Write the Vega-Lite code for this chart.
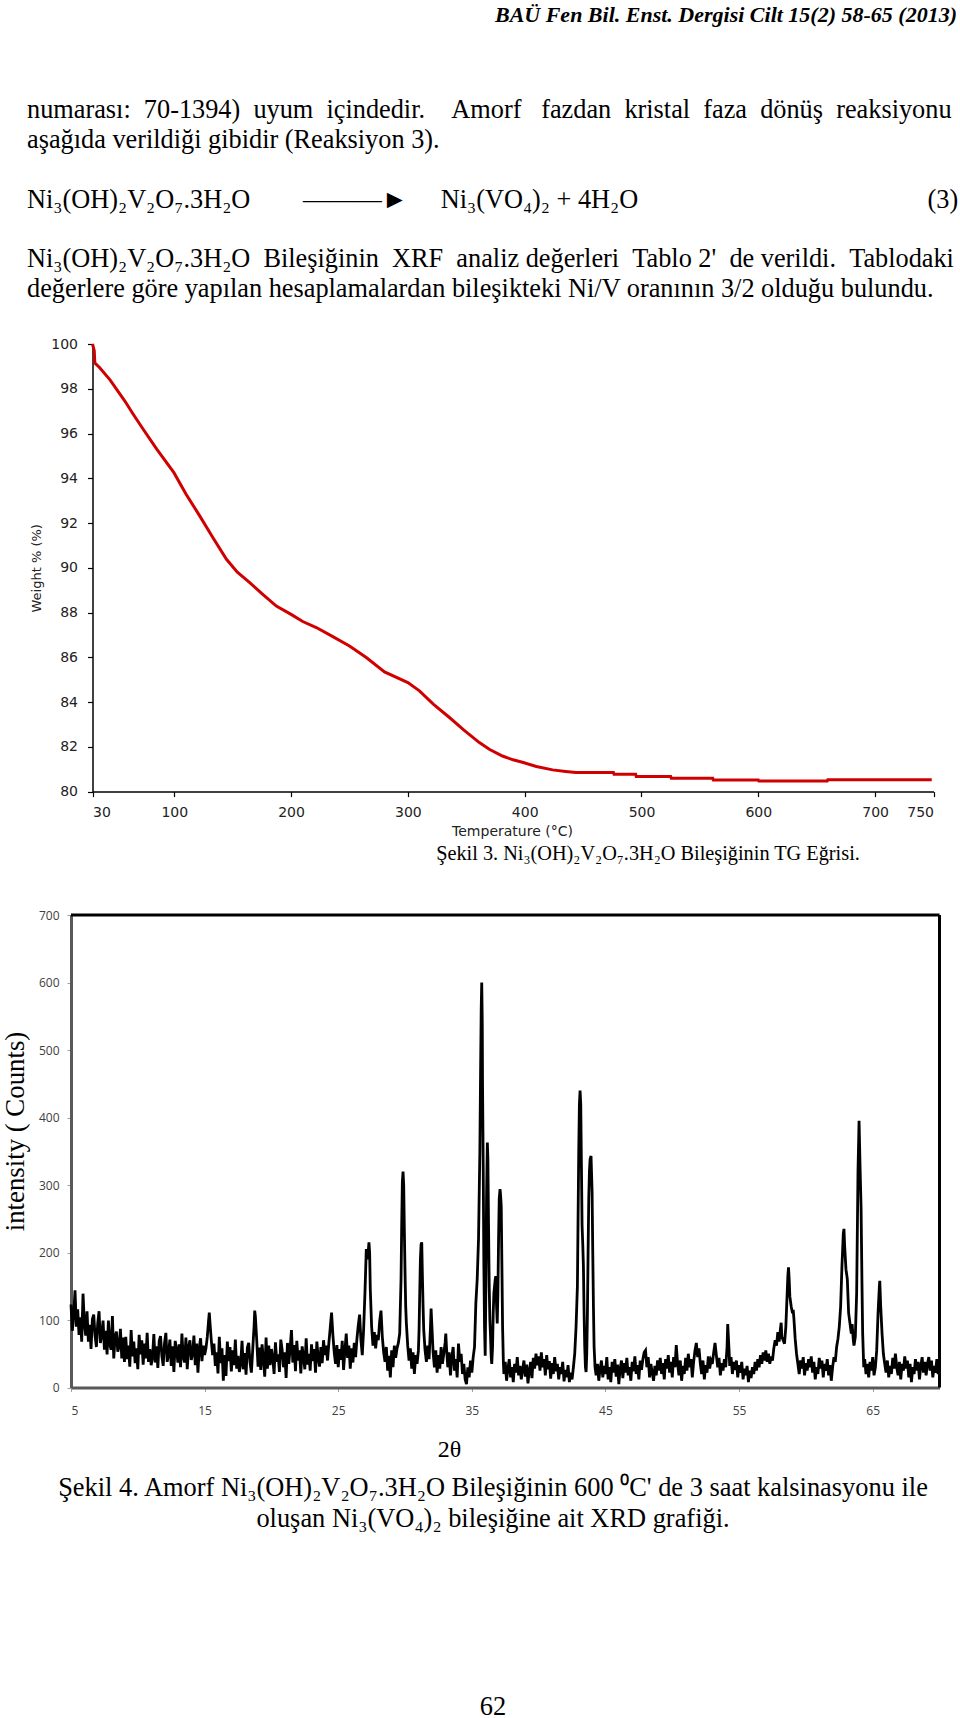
{
  "$schema": "https://vega.github.io/schema/vega-lite/v6.json",
  "background": "white",
  "padding": {"left": 0, "top": 4, "right": 0, "bottom": 0},
  "config": {
    "view": {"stroke": null},
    "concat": {"spacing": 5},
    "title": {"font": "Liberation Serif", "color": "black", "fontWeight": "normal"}
  },
  "title": {"text": "BAÜ Fen Bil. Enst. Dergisi Cilt 15(2) 58-65 (2013)", "anchor": "end", "fontSize": 22, "fontStyle": "italic", "fontWeight": "bold", "font": "Liberation Serif", "offset": 70, "dx": -3},
  "vconcat": [
    {
      "width": 960,
      "height": 447.6,
      "title": {
        "text": [
          "numarası:\u00a0\u00a070-1394)\u00a0\u00a0uyum\u00a0\u00a0içindedir.\u00a0\u00a0\u00a0\u00a0Amorf\u00a0\u00a0\u00a0fazdan\u00a0\u00a0kristal\u00a0\u00a0faza\u00a0\u00a0dönüş\u00a0\u00a0reaksiyonu",
          "aşağıda verildiği gibidir (Reaksiyon 3).",
          "\u2800",
          "Ni₃(OH)₂V₂O₇.3H₂O\u00a0\u00a0\u00a0\u00a0\u00a0\u00a0\u00a0\u00a0———►\u00a0\u00a0\u00a0\u00a0\u00a0Ni₃(VO₄)₂ + 4H₂O\u00a0\u00a0\u00a0\u00a0\u00a0\u00a0\u00a0\u00a0\u00a0\u00a0\u00a0\u00a0\u00a0\u00a0\u00a0\u00a0\u00a0\u00a0\u00a0\u00a0\u00a0\u00a0\u00a0\u00a0\u00a0\u00a0\u00a0\u00a0\u00a0\u00a0\u00a0\u00a0\u00a0\u00a0\u00a0\u00a0\u00a0\u00a0\u00a0\u00a0\u00a0\u00a0\u00a0\u00a0(3)",
          "\u2800",
          "Ni₃(OH)₂V₂O₇.3H₂O\u00a0\u00a0Bileşiğinin\u00a0\u00a0XRF\u00a0\u00a0analiz\u00a0değerleri\u00a0\u00a0Tablo\u00a02'\u00a0\u00a0de\u00a0verildi.\u00a0\u00a0Tablodaki",
          "değerlere göre yapılan hesaplamalardan bileşikteki Ni/V oranının 3/2 olduğu bulundu."
        ],
        "anchor": "start",
        "frame": "group",
        "dx": 27,
        "fontSize": 26.3,
        "lineHeight": 29.8,
        "offset": 34.5
      },
      "data": {"values": [
        {"temp": 30, "weight": 100.0},
        {"temp": 31.5, "weight": 99.7},
        {"temp": 32, "weight": 99.15},
        {"temp": 33, "weight": 99.1},
        {"temp": 36, "weight": 98.95},
        {"temp": 45, "weight": 98.4},
        {"temp": 57.7, "weight": 97.45},
        {"temp": 65, "weight": 96.85},
        {"temp": 73.4, "weight": 96.19},
        {"temp": 85, "weight": 95.3},
        {"temp": 99.7, "weight": 94.25},
        {"temp": 110, "weight": 93.3},
        {"temp": 121.9, "weight": 92.31},
        {"temp": 133, "weight": 91.35},
        {"temp": 144.7, "weight": 90.38},
        {"temp": 154, "weight": 89.8},
        {"temp": 164.6, "weight": 89.34},
        {"temp": 176, "weight": 88.8},
        {"temp": 187.4, "weight": 88.29},
        {"temp": 200, "weight": 87.92},
        {"temp": 210, "weight": 87.6},
        {"temp": 221.6, "weight": 87.33},
        {"temp": 235, "weight": 86.95},
        {"temp": 250, "weight": 86.51},
        {"temp": 264.4, "weight": 85.99},
        {"temp": 280, "weight": 85.35},
        {"temp": 300, "weight": 84.87},
        {"temp": 309.9, "weight": 84.5},
        {"temp": 322, "weight": 83.9},
        {"temp": 335.6, "weight": 83.31},
        {"temp": 348, "weight": 82.75},
        {"temp": 361.2, "weight": 82.19},
        {"temp": 369.7, "weight": 81.89},
        {"temp": 381, "weight": 81.59},
        {"temp": 390, "weight": 81.42},
        {"temp": 398.8, "weight": 81.3},
        {"temp": 410, "weight": 81.12},
        {"temp": 423.9, "weight": 80.97},
        {"temp": 435, "weight": 80.9},
        {"temp": 443.8, "weight": 80.85},
        {"temp": 476, "weight": 80.85},
        {"temp": 476.5, "weight": 80.77},
        {"temp": 495, "weight": 80.77},
        {"temp": 495.5, "weight": 80.67},
        {"temp": 525, "weight": 80.67},
        {"temp": 525.5, "weight": 80.6},
        {"temp": 561, "weight": 80.6},
        {"temp": 561.5, "weight": 80.52},
        {"temp": 600, "weight": 80.52},
        {"temp": 600.5, "weight": 80.47},
        {"temp": 659, "weight": 80.47},
        {"temp": 659.5, "weight": 80.53},
        {"temp": 748.5, "weight": 80.53}
      ]},
      "mark": {"type": "line", "color": "#d00000", "strokeWidth": 3},
      "encoding": {
        "x": {
          "field": "temp", "type": "quantitative",
          "scale": {"domain": [30, 750], "range": [92.5, 933.5], "nice": false, "zero": false},
          "axis": {
            "values": [30, 100, 200, 300, 400, 500, 600, 700, 750],
            "title": "Temperature (°C)", "titleFont": "DejaVu Sans", "titleFontSize": 14, "titleFontWeight": "normal", "titleColor": "#222", "titlePadding": 5, "titleX": 512,
            "labelFont": "DejaVu Sans", "labelFontSize": 14, "labelColor": "#222", "labelPadding": 9.2,
            "domainColor": "black", "domainWidth": 1.5, "tickColor": "black", "tickSize": 5, "tickWidth": 1.2, "grid": false
          }
        },
        "y": {
          "field": "weight", "type": "quantitative",
          "scale": {"domain": [80, 100], "nice": false, "zero": false},
          "axis": {
            "values": [80, 82, 84, 86, 88, 90, 92, 94, 96, 98, 100],
            "offset": -92.5,
            "title": "Weight % (%)", "titleFont": "DejaVu Sans", "titleFontSize": 13, "titleFontWeight": "normal", "titleColor": "#222", "titlePadding": 7,
            "labelFont": "DejaVu Sans", "labelFontSize": 14, "labelColor": "#222", "labelPadding": 10,
            "domainColor": "black", "domainWidth": 1.5, "tickColor": "black", "tickSize": 5, "tickWidth": 1.2, "grid": false
          }
        }
      }
    },
    {
      "title": {
        "text": [
          "Şekil 4.  Amorf Ni₃(OH)₂V₂O₇.3H₂O Bileşiğinin 600 ⁰C' de 3 saat kalsinasyonu ile",
          "oluşan Ni₃(VO₄)₂ bileşiğine ait XRD grafiği.",
          "\u2800", "\u2800", "\u2800", "\u2800", "\u2800",
          "62"
        ],
        "orient": "bottom",
        "anchor": "middle",
        "dx": 13,
        "fontSize": 26.4,
        "lineHeight": 31.4,
        "offset": 13
      },
      "vconcat": [
        {
          "width": 960,
          "height": 472.5,
          "title": {"text": "Şekil 3.  Ni₃(OH)₂V₂O₇.3H₂O Bileşiğinin TG Eğrisi.", "anchor": "middle", "frame": "group", "dx": 168, "fontSize": 20.3, "offset": 44.3},
          "layer": [
            {
              "data": {"values": [
{"theta":5,"counts":123},{"theta":5.1,"counts":84},{"theta":5.2,"counts":108},{"theta":5.3,"counts":144},{"theta":5.4,"counts":90},{"theta":5.5,"counts":116},{"theta":5.6,"counts":78},{"theta":5.7,"counts":104},{"theta":5.8,"counts":68},{"theta":5.9,"counts":139},{"theta":6,"counts":95},
{"theta":6.1,"counts":77},{"theta":6.2,"counts":113},{"theta":6.3,"counts":68},{"theta":6.4,"counts":93},{"theta":6.5,"counts":57},{"theta":6.6,"counts":101},{"theta":6.7,"counts":108},{"theta":6.8,"counts":77},{"theta":6.9,"counts":60},{"theta":7,"counts":95},
{"theta":7.1,"counts":113},{"theta":7.2,"counts":66},{"theta":7.3,"counts":78},{"theta":7.4,"counts":99},{"theta":7.5,"counts":56},{"theta":7.6,"counts":84},{"theta":7.7,"counts":49},{"theta":7.8,"counts":99},{"theta":7.9,"counts":64},{"theta":8,"counts":56},
{"theta":8.1,"counts":106},{"theta":8.2,"counts":43},{"theta":8.3,"counts":75},{"theta":8.4,"counts":83},{"theta":8.5,"counts":53},{"theta":8.6,"counts":61},{"theta":8.7,"counts":87},{"theta":8.8,"counts":43},{"theta":8.9,"counts":74},{"theta":9,"counts":38},
{"theta":9.1,"counts":75},{"theta":9.2,"counts":42},{"theta":9.3,"counts":62},{"theta":9.4,"counts":31},{"theta":9.5,"counts":85},{"theta":9.6,"counts":46},{"theta":9.7,"counts":68},{"theta":9.8,"counts":36},{"theta":9.9,"counts":58},{"theta":10,"counts":27},
{"theta":10.1,"counts":78},{"theta":10.2,"counts":49},{"theta":10.3,"counts":70},{"theta":10.4,"counts":34},{"theta":10.5,"counts":65},{"theta":10.6,"counts":43},{"theta":10.7,"counts":81},{"theta":10.8,"counts":38},{"theta":10.9,"counts":57},{"theta":11,"counts":33},
{"theta":11.1,"counts":45},{"theta":11.2,"counts":79},{"theta":11.3,"counts":37},{"theta":11.4,"counts":61},{"theta":11.5,"counts":29},{"theta":11.6,"counts":69},{"theta":11.7,"counts":76},{"theta":11.8,"counts":47},{"theta":11.9,"counts":32},{"theta":12,"counts":66},
{"theta":12.1,"counts":81},{"theta":12.2,"counts":38},{"theta":12.3,"counts":49},{"theta":12.4,"counts":71},{"theta":12.5,"counts":32},{"theta":12.6,"counts":61},{"theta":12.7,"counts":23},{"theta":12.8,"counts":69},{"theta":12.9,"counts":56},{"theta":13,"counts":37},
{"theta":13.1,"counts":64},{"theta":13.2,"counts":30},{"theta":13.3,"counts":80},{"theta":13.4,"counts":45},{"theta":13.5,"counts":37},{"theta":13.6,"counts":74},{"theta":13.7,"counts":27},{"theta":13.8,"counts":60},{"theta":13.9,"counts":70},{"theta":14,"counts":41},
{"theta":14.1,"counts":50},{"theta":14.2,"counts":77},{"theta":14.3,"counts":33},{"theta":14.4,"counts":65},{"theta":14.5,"counts":22},{"theta":14.6,"counts":59},{"theta":14.7,"counts":73},{"theta":14.8,"counts":39},{"theta":14.9,"counts":62},{"theta":15,"counts":48},
{"theta":15.1,"counts":58},{"theta":15.2,"counts":75},{"theta":15.3,"counts":100},{"theta":15.35,"counts":111},{"theta":15.4,"counts":96},{"theta":15.5,"counts":70},{"theta":15.6,"counts":48},
{"theta":15.7,"counts":65},{"theta":15.8,"counts":32},{"theta":15.9,"counts":52},{"theta":16,"counts":21},{"theta":16.1,"counts":75},{"theta":16.2,"counts":36},{"theta":16.3,"counts":58},{"theta":16.4,"counts":10},{"theta":16.5,"counts":48},{"theta":16.6,"counts":17},
{"theta":16.7,"counts":68},{"theta":16.8,"counts":39},{"theta":16.9,"counts":60},{"theta":17,"counts":24},{"theta":17.1,"counts":55},{"theta":17.2,"counts":33},{"theta":17.3,"counts":71},{"theta":17.4,"counts":28},{"theta":17.5,"counts":47},{"theta":17.6,"counts":23},
{"theta":17.7,"counts":35},{"theta":17.8,"counts":69},{"theta":17.9,"counts":27},{"theta":18,"counts":51},{"theta":18.1,"counts":19},{"theta":18.2,"counts":59},{"theta":18.3,"counts":66},{"theta":18.4,"counts":37},{"theta":18.5,"counts":22},{"theta":18.6,"counts":56},
{"theta":18.7,"counts":90},{"theta":18.75,"counts":114},{"theta":18.8,"counts":105},{"theta":18.9,"counts":70},
{"theta":19,"counts":31},{"theta":19.1,"counts":59},{"theta":19.2,"counts":26},{"theta":19.3,"counts":64},{"theta":19.4,"counts":42},{"theta":19.5,"counts":16},{"theta":19.6,"counts":74},{"theta":19.7,"counts":28},{"theta":19.8,"counts":62},{"theta":19.9,"counts":33},
{"theta":20,"counts":57},{"theta":20.1,"counts":43},{"theta":20.2,"counts":20},{"theta":20.3,"counts":67},{"theta":20.4,"counts":38},{"theta":20.5,"counts":49},{"theta":20.6,"counts":23},{"theta":20.7,"counts":71},{"theta":20.8,"counts":56},{"theta":20.9,"counts":30},
{"theta":21,"counts":52},{"theta":21.1,"counts":14},{"theta":21.2,"counts":66},{"theta":21.3,"counts":35},{"theta":21.4,"counts":58},{"theta":21.5,"counts":85},{"theta":21.6,"counts":37},{"theta":21.7,"counts":63},{"theta":21.8,"counts":24},{"theta":21.9,"counts":69},
{"theta":22,"counts":40},{"theta":22.1,"counts":55},{"theta":22.2,"counts":21},{"theta":22.3,"counts":61},{"theta":22.4,"counts":45},{"theta":22.5,"counts":27},{"theta":22.6,"counts":73},{"theta":22.7,"counts":34},{"theta":22.8,"counts":50},{"theta":22.9,"counts":25},
{"theta":23,"counts":64},{"theta":23.1,"counts":39},{"theta":23.2,"counts":57},{"theta":23.3,"counts":22},{"theta":23.4,"counts":68},{"theta":23.5,"counts":44},{"theta":23.6,"counts":31},{"theta":23.7,"counts":60},{"theta":23.8,"counts":36},{"theta":23.9,"counts":70},
{"theta":24,"counts":48},{"theta":24.1,"counts":62},{"theta":24.2,"counts":40},{"theta":24.3,"counts":66},{"theta":24.4,"counts":88},{"theta":24.5,"counts":111},{"theta":24.6,"counts":78},{"theta":24.7,"counts":52},
{"theta":24.8,"counts":35},{"theta":24.9,"counts":63},{"theta":25,"counts":30},{"theta":25.1,"counts":57},{"theta":25.2,"counts":41},{"theta":25.3,"counts":69},{"theta":25.4,"counts":26},{"theta":25.5,"counts":55},{"theta":25.6,"counts":80},{"theta":25.7,"counts":44},
{"theta":25.8,"counts":62},{"theta":25.9,"counts":28},{"theta":26,"counts":58},{"theta":26.1,"counts":37},{"theta":26.2,"counts":66},{"theta":26.3,"counts":45},{"theta":26.4,"counts":72},
{"theta":26.5,"counts":92},{"theta":26.6,"counts":108},{"theta":26.7,"counts":70},{"theta":26.8,"counts":48},{"theta":26.9,"counts":86},{"theta":27,"counts":140},{"theta":27.1,"counts":205},{"theta":27.2,"counts":190},{"theta":27.3,"counts":215},{"theta":27.35,"counts":200},
{"theta":27.4,"counts":145},{"theta":27.5,"counts":90},{"theta":27.6,"counts":62},{"theta":27.7,"counts":82},{"theta":27.8,"counts":58},{"theta":27.9,"counts":78},{"theta":28,"counts":70},{"theta":28.1,"counts":98},{"theta":28.2,"counts":114},{"theta":28.3,"counts":75},{"theta":28.4,"counts":52},
{"theta":28.5,"counts":38},{"theta":28.6,"counts":60},{"theta":28.7,"counts":25},{"theta":28.8,"counts":47},{"theta":28.9,"counts":15},{"theta":29,"counts":55},{"theta":29.1,"counts":30},{"theta":29.2,"counts":62},{"theta":29.3,"counts":44},{"theta":29.4,"counts":58},{"theta":29.5,"counts":66},
{"theta":29.6,"counts":80},{"theta":29.7,"counts":160},{"theta":29.75,"counts":240},{"theta":29.8,"counts":305},{"theta":29.85,"counts":320},{"theta":29.9,"counts":300},{"theta":29.95,"counts":230},{"theta":30,"counts":170},{"theta":30.05,"counts":120},{"theta":30.1,"counts":95},{"theta":30.2,"counts":62},
{"theta":30.3,"counts":40},{"theta":30.4,"counts":58},{"theta":30.5,"counts":28},{"theta":30.6,"counts":52},{"theta":30.7,"counts":20},{"theta":30.8,"counts":48},{"theta":30.9,"counts":35},{"theta":31,"counts":55},
{"theta":31.05,"counts":85},{"theta":31.1,"counts":140},{"theta":31.15,"counts":190},{"theta":31.2,"counts":212},{"theta":31.25,"counts":215},{"theta":31.3,"counts":165},{"theta":31.35,"counts":120},{"theta":31.4,"counts":85},{"theta":31.5,"counts":55},{"theta":31.6,"counts":38},
{"theta":31.7,"counts":62},{"theta":31.8,"counts":42},{"theta":31.9,"counts":88},{"theta":31.95,"counts":117},{"theta":32,"counts":95},{"theta":32.1,"counts":52},
{"theta":32.2,"counts":30},{"theta":32.3,"counts":55},{"theta":32.4,"counts":22},{"theta":32.5,"counts":48},{"theta":32.6,"counts":28},{"theta":32.7,"counts":60},{"theta":32.8,"counts":35},{"theta":32.9,"counts":50},{"theta":33,"counts":66},{"theta":33.05,"counts":80},
{"theta":33.1,"counts":60},{"theta":33.2,"counts":30},{"theta":33.3,"counts":52},{"theta":33.4,"counts":18},{"theta":33.5,"counts":45},{"theta":33.6,"counts":60},{"theta":33.7,"counts":25},{"theta":33.8,"counts":42},{"theta":33.9,"counts":15},{"theta":34,"counts":65},
{"theta":34.1,"counts":38},{"theta":34.2,"counts":50},{"theta":34.3,"counts":20},{"theta":34.4,"counts":35},{"theta":34.5,"counts":12},{"theta":34.6,"counts":5},{"theta":34.7,"counts":30},{"theta":34.8,"counts":15},{"theta":34.9,"counts":40},{"theta":35,"counts":22},
{"theta":35.1,"counts":45},{"theta":35.2,"counts":60},{"theta":35.3,"counts":125},{"theta":35.4,"counts":160},{"theta":35.5,"counts":220},{"theta":35.6,"counts":350},{"theta":35.65,"counts":460},{"theta":35.7,"counts":560},{"theta":35.74,"counts":600},{"theta":35.78,"counts":540},
{"theta":35.8,"counts":450},{"theta":35.85,"counts":330},{"theta":35.9,"counts":180},{"theta":35.95,"counts":90},{"theta":36,"counts":47},{"theta":36.05,"counts":150},{"theta":36.1,"counts":280},{"theta":36.16,"counts":363},{"theta":36.2,"counts":340},{"theta":36.25,"counts":240},
{"theta":36.3,"counts":150},{"theta":36.35,"counts":100},{"theta":36.4,"counts":75},{"theta":36.45,"counts":45},{"theta":36.49,"counts":35},{"theta":36.55,"counts":60},{"theta":36.6,"counts":110},{"theta":36.65,"counts":140},{"theta":36.7,"counts":150},{"theta":36.75,"counts":160},
{"theta":36.79,"counts":165},{"theta":36.85,"counts":120},{"theta":36.9,"counts":95},{"theta":36.95,"counts":140},{"theta":37,"counts":220},{"theta":37.05,"counts":280},{"theta":37.11,"counts":294},{"theta":37.15,"counts":285},{"theta":37.2,"counts":268},{"theta":37.25,"counts":180},
{"theta":37.3,"counts":90},{"theta":37.36,"counts":37},
{"theta":37.4,"counts":20},{"theta":37.5,"counts":38},{"theta":37.6,"counts":10},{"theta":37.7,"counts":28},{"theta":37.8,"counts":42},{"theta":37.9,"counts":15},{"theta":38,"counts":30},{"theta":38.1,"counts":8},{"theta":38.2,"counts":35},{"theta":38.3,"counts":22},
{"theta":38.4,"counts":45},{"theta":38.5,"counts":18},{"theta":38.6,"counts":32},{"theta":38.7,"counts":12},{"theta":38.8,"counts":27},{"theta":38.9,"counts":40},{"theta":39,"counts":16},{"theta":39.1,"counts":34},{"theta":39.2,"counts":6},{"theta":39.3,"counts":25},
{"theta":39.4,"counts":38},{"theta":39.5,"counts":14},{"theta":39.6,"counts":44},{"theta":39.7,"counts":28},{"theta":39.8,"counts":50},{"theta":39.9,"counts":33},{"theta":40,"counts":46},{"theta":40.1,"counts":25},{"theta":40.2,"counts":52},{"theta":40.3,"counts":30},
{"theta":40.4,"counts":42},{"theta":40.5,"counts":18},{"theta":40.6,"counts":48},{"theta":40.7,"counts":27},{"theta":40.8,"counts":39},{"theta":40.9,"counts":13},{"theta":41,"counts":36},{"theta":41.1,"counts":20},{"theta":41.2,"counts":45},{"theta":41.3,"counts":24},
{"theta":41.4,"counts":35},{"theta":41.5,"counts":12},{"theta":41.6,"counts":30},{"theta":41.7,"counts":20},{"theta":41.8,"counts":38},{"theta":41.9,"counts":9},{"theta":42,"counts":26},{"theta":42.1,"counts":15},{"theta":42.2,"counts":33},{"theta":42.3,"counts":8},
{"theta":42.4,"counts":22},{"theta":42.5,"counts":12},{"theta":42.6,"counts":30},
{"theta":42.7,"counts":50},{"theta":42.8,"counts":90},{"theta":42.9,"counts":150},{"theta":42.95,"counts":250},{"theta":43,"counts":350},{"theta":43.05,"counts":420},{"theta":43.1,"counts":440},{"theta":43.15,"counts":420},{"theta":43.2,"counts":330},{"theta":43.25,"counts":240},
{"theta":43.3,"counts":213},{"theta":43.35,"counts":180},{"theta":43.4,"counts":110},{"theta":43.45,"counts":60},{"theta":43.5,"counts":30},{"theta":43.55,"counts":23},{"theta":43.6,"counts":50},{"theta":43.65,"counts":110},{"theta":43.7,"counts":200},{"theta":43.75,"counts":280},
{"theta":43.8,"counts":320},{"theta":43.85,"counts":338},{"theta":43.92,"counts":343},{"theta":44,"counts":290},{"theta":44.05,"counts":200},{"theta":44.1,"counts":120},{"theta":44.15,"counts":60},{"theta":44.22,"counts":30},
{"theta":44.3,"counts":18},{"theta":44.4,"counts":35},{"theta":44.5,"counts":10},{"theta":44.6,"counts":28},{"theta":44.7,"counts":40},{"theta":44.8,"counts":15},{"theta":44.9,"counts":32},{"theta":45,"counts":20},{"theta":45.1,"counts":45},{"theta":45.2,"counts":12},
{"theta":45.3,"counts":30},{"theta":45.4,"counts":8},{"theta":45.5,"counts":38},{"theta":45.6,"counts":22},{"theta":45.7,"counts":42},{"theta":45.8,"counts":16},{"theta":45.9,"counts":34},{"theta":46,"counts":5},{"theta":46.1,"counts":28},{"theta":46.2,"counts":40},
{"theta":46.3,"counts":14},{"theta":46.4,"counts":36},{"theta":46.5,"counts":22},{"theta":46.6,"counts":44},{"theta":46.7,"counts":18},{"theta":46.8,"counts":30},{"theta":46.9,"counts":10},{"theta":47,"counts":38},{"theta":47.1,"counts":24},{"theta":47.2,"counts":46},
{"theta":47.3,"counts":20},{"theta":47.4,"counts":33},{"theta":47.5,"counts":12},{"theta":47.6,"counts":40},{"theta":47.7,"counts":26},{"theta":47.8,"counts":42},{"theta":47.9,"counts":52},{"theta":48,"counts":55},{"theta":48.1,"counts":30},{"theta":48.2,"counts":45},
{"theta":48.3,"counts":15},{"theta":48.4,"counts":35},{"theta":48.5,"counts":22},{"theta":48.6,"counts":10},{"theta":48.7,"counts":32},{"theta":48.8,"counts":18},{"theta":48.9,"counts":40},{"theta":49,"counts":25},{"theta":49.1,"counts":44},{"theta":49.2,"counts":20},
{"theta":49.3,"counts":36},{"theta":49.4,"counts":12},{"theta":49.5,"counts":42},{"theta":49.6,"counts":28},{"theta":49.7,"counts":48},{"theta":49.8,"counts":22},{"theta":49.9,"counts":38},{"theta":50,"counts":15},{"theta":50.1,"counts":45},{"theta":50.2,"counts":30},
{"theta":50.3,"counts":63},{"theta":50.4,"counts":35},{"theta":50.5,"counts":18},{"theta":50.6,"counts":40},{"theta":50.7,"counts":10},{"theta":50.8,"counts":32},{"theta":50.9,"counts":20},{"theta":51,"counts":44},{"theta":51.1,"counts":25},{"theta":51.2,"counts":50},
{"theta":51.3,"counts":30},{"theta":51.4,"counts":42},{"theta":51.5,"counts":15},{"theta":51.6,"counts":38},{"theta":51.7,"counts":55},{"theta":51.8,"counts":66},{"theta":51.9,"counts":45},{"theta":52,"counts":58},{"theta":52.1,"counts":35},{"theta":52.2,"counts":20},
{"theta":52.3,"counts":40},{"theta":52.4,"counts":12},{"theta":52.5,"counts":33},{"theta":52.6,"counts":22},{"theta":52.7,"counts":46},{"theta":52.8,"counts":28},{"theta":52.9,"counts":40},{"theta":53,"counts":35},{"theta":53.1,"counts":52},{"theta":53.2,"counts":66},
{"theta":53.3,"counts":48},{"theta":53.4,"counts":30},{"theta":53.5,"counts":44},{"theta":53.6,"counts":18},{"theta":53.7,"counts":36},{"theta":53.8,"counts":25},{"theta":53.9,"counts":42},{"theta":54,"counts":30},{"theta":54.1,"counts":60},{"theta":54.15,"counts":94},
{"theta":54.25,"counts":55},{"theta":54.3,"counts":32},{"theta":54.4,"counts":45},{"theta":54.5,"counts":20},{"theta":54.6,"counts":38},{"theta":54.7,"counts":26},{"theta":54.8,"counts":40},{"theta":54.9,"counts":15},{"theta":55,"counts":33},{"theta":55.1,"counts":22},
{"theta":55.2,"counts":38},{"theta":55.3,"counts":12},{"theta":55.4,"counts":28},{"theta":55.5,"counts":18},{"theta":55.6,"counts":32},{"theta":55.7,"counts":8},{"theta":55.8,"counts":25},{"theta":55.9,"counts":14},{"theta":56,"counts":30},{"theta":56.1,"counts":20},
{"theta":56.2,"counts":38},{"theta":56.3,"counts":25},{"theta":56.4,"counts":42},{"theta":56.5,"counts":30},{"theta":56.6,"counts":48},{"theta":56.7,"counts":35},{"theta":56.8,"counts":52},{"theta":56.9,"counts":40},{"theta":57,"counts":55},{"theta":57.1,"counts":38},
{"theta":57.2,"counts":50},{"theta":57.3,"counts":35},{"theta":57.4,"counts":46},{"theta":57.5,"counts":40},{"theta":57.6,"counts":58},{"theta":57.7,"counts":70},{"theta":57.8,"counts":62},{"theta":57.9,"counts":82},{"theta":58,"counts":68},{"theta":58.1,"counts":88},
{"theta":58.15,"counts":96},{"theta":58.2,"counts":75},{"theta":58.3,"counts":70},{"theta":58.4,"counts":65},{"theta":58.5,"counts":90},{"theta":58.6,"counts":140},{"theta":58.65,"counts":165},{"theta":58.7,"counts":178},{"theta":58.75,"counts":160},{"theta":58.8,"counts":135},
{"theta":58.9,"counts":120},{"theta":59,"counts":110},{"theta":59.05,"counts":115},{"theta":59.1,"counts":103},{"theta":59.2,"counts":72},{"theta":59.3,"counts":50},
{"theta":59.4,"counts":35},{"theta":59.5,"counts":20},{"theta":59.6,"counts":40},{"theta":59.7,"counts":28},{"theta":59.8,"counts":45},{"theta":59.9,"counts":18},{"theta":60,"counts":36},{"theta":60.1,"counts":25},{"theta":60.2,"counts":42},{"theta":60.3,"counts":30},
{"theta":60.4,"counts":46},{"theta":60.5,"counts":22},{"theta":60.6,"counts":38},{"theta":60.7,"counts":12},{"theta":60.8,"counts":30},{"theta":60.9,"counts":20},{"theta":61,"counts":44},{"theta":61.1,"counts":28},{"theta":61.2,"counts":40},{"theta":61.3,"counts":15},
{"theta":61.4,"counts":35},{"theta":61.5,"counts":25},{"theta":61.6,"counts":42},{"theta":61.7,"counts":18},{"theta":61.8,"counts":33},{"theta":61.9,"counts":10},{"theta":62,"counts":30},{"theta":62.1,"counts":45},{"theta":62.2,"counts":38},{"theta":62.3,"counts":60},
{"theta":62.4,"counts":72},{"theta":62.5,"counts":90},{"theta":62.6,"counts":120},{"theta":62.7,"counts":180},{"theta":62.8,"counts":228},{"theta":62.85,"counts":235},{"theta":62.9,"counts":210},{"theta":63,"counts":175},{"theta":63.1,"counts":161},{"theta":63.2,"counts":110},
{"theta":63.3,"counts":95},{"theta":63.4,"counts":80},{"theta":63.46,"counts":94},{"theta":63.55,"counts":70},{"theta":63.6,"counts":62},{"theta":63.7,"counts":75},{"theta":63.8,"counts":140},{"theta":63.9,"counts":320},{"theta":63.98,"counts":395},{"theta":64.05,"counts":330},
{"theta":64.13,"counts":267},{"theta":64.2,"counts":150},{"theta":64.25,"counts":80},{"theta":64.33,"counts":30},
{"theta":64.4,"counts":42},{"theta":64.5,"counts":20},{"theta":64.6,"counts":35},{"theta":64.7,"counts":15},{"theta":64.8,"counts":38},{"theta":64.9,"counts":25},{"theta":65,"counts":45},{"theta":65.1,"counts":18},{"theta":65.2,"counts":30},{"theta":65.3,"counts":55},
{"theta":65.4,"counts":110},{"theta":65.5,"counts":150},{"theta":65.53,"counts":158},{"theta":65.6,"counts":120},{"theta":65.7,"counts":80},{"theta":65.8,"counts":50},{"theta":65.9,"counts":35},
{"theta":66,"counts":22},{"theta":66.1,"counts":40},{"theta":66.2,"counts":15},{"theta":66.3,"counts":32},{"theta":66.4,"counts":20},{"theta":66.5,"counts":44},{"theta":66.6,"counts":28},{"theta":66.7,"counts":50},{"theta":66.8,"counts":30},{"theta":66.9,"counts":18},
{"theta":67,"counts":38},{"theta":67.1,"counts":12},{"theta":67.2,"counts":35},{"theta":67.3,"counts":25},{"theta":67.4,"counts":46},{"theta":67.5,"counts":28},{"theta":67.6,"counts":40},{"theta":67.7,"counts":15},{"theta":67.8,"counts":35},{"theta":67.9,"counts":8},
{"theta":68,"counts":30},{"theta":68.1,"counts":20},{"theta":68.2,"counts":42},{"theta":68.3,"counts":25},{"theta":68.4,"counts":38},{"theta":68.5,"counts":12},{"theta":68.6,"counts":32},{"theta":68.7,"counts":45},{"theta":68.8,"counts":22},{"theta":68.9,"counts":38},
{"theta":69,"counts":18},{"theta":69.1,"counts":35},{"theta":69.2,"counts":45},{"theta":69.3,"counts":25},{"theta":69.4,"counts":40},{"theta":69.5,"counts":15},{"theta":69.6,"counts":32},{"theta":69.7,"counts":22},{"theta":69.8,"counts":42},{"theta":69.9,"counts":20},{"theta":70,"counts":30}
              ]},
              "mark": {"type": "line", "color": "black", "strokeWidth": 2.8},
              "encoding": {
                "x": {
                  "field": "theta", "type": "quantitative",
                  "scale": {"domain": [5, 70], "range": [71, 939.5], "nice": false, "zero": false},
                  "axis": {
                    "values": [5, 15, 25, 35, 45, 55, 65],
                    "title": "2θ", "titleFont": "Liberation Serif", "titleFontSize": 24, "titleFontWeight": "normal", "titleColor": "black", "titlePadding": 21, "titleX": 449,
                    "labelFont": "Open Sans", "labelFontSize": 12, "labelColor": "#404040", "labelPadding": 14,
                    "domainColor": "#595959", "domainWidth": 3, "tickColor": "#a0a0a0", "tickSize": 4, "tickWidth": 1, "grid": false
                  }
                },
                "y": {
                  "field": "counts", "type": "quantitative",
                  "scale": {"domain": [0, 700], "nice": false, "zero": true},
                  "axis": {
                    "values": [0, 100, 200, 300, 400, 500, 600, 700],
                    "offset": -71,
                    "title": "intensity ( Counts)", "titleFont": "Liberation Serif", "titleFontSize": 26.8, "titleFontWeight": "normal", "titleColor": "black", "titlePadding": 9, "titleY": 216,
                    "labelFont": "Open Sans", "labelFontSize": 12, "labelColor": "#404040", "labelPadding": 8,
                    "domainColor": "#595959", "domainWidth": 3, "tickColor": "#a0a0a0", "tickSize": 4, "tickWidth": 1, "grid": false
                  }
                }
              }
            },
            {
              "data": {"values": [{}]},
              "mark": {"type": "rule", "color": "black", "strokeWidth": 3},
              "encoding": {"x": {"datum": 5}, "x2": {"datum": 70}, "y": {"datum": 700}}
            },
            {
              "data": {"values": [{}]},
              "mark": {"type": "rule", "color": "black", "strokeWidth": 3},
              "encoding": {"x": {"datum": 70}, "y": {"datum": 0}, "y2": {"datum": 700}}
            }
          ]
        }
      ]
    }
  ]
}
